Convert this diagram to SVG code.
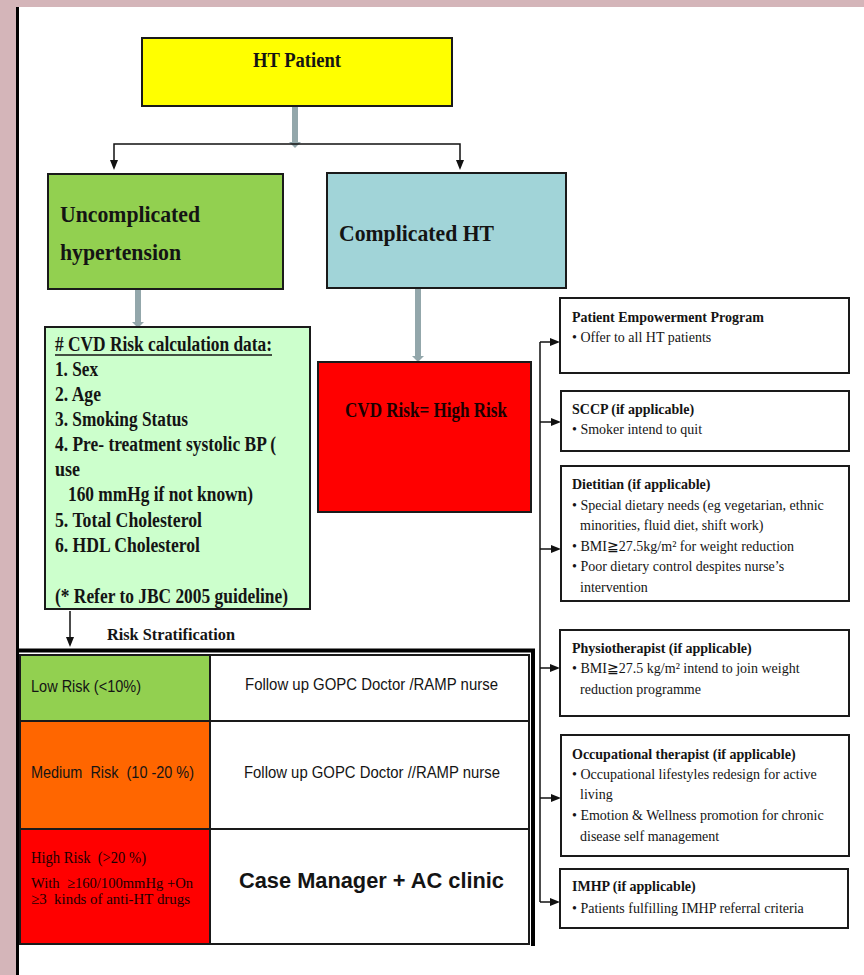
<svg xmlns="http://www.w3.org/2000/svg" width="864" height="975" viewBox="0 0 864 975">
<style>
.ser{font-family:"Liberation Serif","Times New Roman",serif}
.sans{font-family:"Liberation Sans",Arial,sans-serif}
.b{font-weight:bold}
.box{stroke:#1a1a1a;stroke-width:2}
.rb{fill:#ffffff;stroke:#1a1a1a;stroke-width:2}
.t14{font-size:14px;fill:#141414}
.conn{stroke:#111;stroke-width:1.5;fill:none}
.gray{stroke:#93a7ab;stroke-width:6;fill:none}
.ink{fill:#141414}
.pre{white-space:pre}
</style>
<defs>
<marker id="ah" markerUnits="userSpaceOnUse" markerWidth="10" markerHeight="8" refX="0" refY="4" orient="auto">
<path d="M0,0 L10,4 L0,8 z" fill="#111"/>
</marker>
<marker id="gh" markerUnits="userSpaceOnUse" markerWidth="6" markerHeight="12" refX="0" refY="6" orient="auto">
<path d="M0,0 L6,6 L0,12 z" fill="#93a7ab"/>
</marker>
</defs>

<rect x="0" y="0" width="864" height="975" fill="#d4b5b9"/>
<rect x="18" y="7" width="846" height="968" fill="#ffffff"/>
<line x1="17.5" y1="7" x2="17.5" y2="975" stroke="#000" stroke-width="3"/>

<g id="connectors">
<path class="gray" d="M295,102 L295,142" marker-end="url(#gh)"/>
<path class="conn" d="M295,144 L114,144 L114,160" marker-end="url(#ah)"/>
<path class="conn" d="M295,144 L460,144 L460,160" marker-end="url(#ah)"/>
<path class="gray" d="M138,286 L138,322" marker-end="url(#gh)"/>
<path class="gray" d="M418,285 L418,356" marker-end="url(#gh)"/>
<path class="conn" d="M70,611 L70,637" marker-end="url(#ah)"/>
<path class="conn" d="M540,342 L540,902"/>
<path class="conn" d="M540,342 L550,342" marker-end="url(#ah)"/>
<path class="conn" d="M540,422 L551,422" marker-end="url(#ah)"/>
<path class="conn" d="M540,549 L551,549" marker-end="url(#ah)"/>
<path class="conn" d="M540,668 L550,668" marker-end="url(#ah)"/>
<path class="conn" d="M540,798 L551,798" marker-end="url(#ah)"/>
<path class="conn" d="M540,902 L550,902" marker-end="url(#ah)"/>
</g>

<g id="ht-patient">
<rect class="box" x="142" y="38" width="310" height="68" fill="#ffff00"/>
<text class="ser b ink" x="297" y="67" font-size="20" text-anchor="middle" textLength="88" lengthAdjust="spacingAndGlyphs">HT Patient</text>
</g>

<g id="uncomplicated">
<rect class="box" x="48" y="174" width="235" height="115" fill="#92d050"/>
<text class="ser b ink" x="60" y="222" font-size="24" textLength="140" lengthAdjust="spacingAndGlyphs">Uncomplicated</text>
<text class="ser b ink" x="60" y="260" font-size="24" textLength="121" lengthAdjust="spacingAndGlyphs">hypertension</text>
</g>

<g id="complicated">
<rect class="box" x="327" y="173" width="239" height="115" fill="#a1d4d8"/>
<text class="ser b ink" x="339" y="241" font-size="24" textLength="155" lengthAdjust="spacingAndGlyphs">Complicated HT</text>
</g>

<g id="cvd-data">
<rect class="box" x="45" y="327" width="265" height="282" fill="#ccffcc"/>
<g class="ser b ink" font-size="20">
<text x="55" y="351" textLength="217" lengthAdjust="spacingAndGlyphs"># CVD Risk calculation data:</text>
<text x="55" y="376" textLength="43" lengthAdjust="spacingAndGlyphs">1. Sex</text>
<text x="55" y="401" textLength="46" lengthAdjust="spacingAndGlyphs">2. Age</text>
<text x="55" y="426" textLength="133" lengthAdjust="spacingAndGlyphs">3. Smoking Status</text>
<text x="55" y="451" textLength="221" lengthAdjust="spacingAndGlyphs">4. Pre- treatment systolic BP (</text>
<text x="55" y="476" textLength="25" lengthAdjust="spacingAndGlyphs">use</text>
<text x="68" y="501" textLength="185" lengthAdjust="spacingAndGlyphs">160 mmHg if not known)</text>
<text x="55" y="527" textLength="147" lengthAdjust="spacingAndGlyphs">5. Total Cholesterol</text>
<text x="55" y="552" textLength="145" lengthAdjust="spacingAndGlyphs">6. HDL Cholesterol</text>
<text x="55" y="603" textLength="233" lengthAdjust="spacingAndGlyphs">(* Refer to JBC 2005 guideline)</text>
</g>
<line x1="55" y1="355" x2="272" y2="355" stroke="#141414" stroke-width="1.3"/>
</g>

<g id="high-risk">
<rect class="box" x="318" y="362" width="213" height="150" fill="#ff0000"/>
<text class="ser b" x="426" y="417" font-size="20" fill="#1a0000" text-anchor="middle" textLength="162" lengthAdjust="spacingAndGlyphs">CVD Risk= High Risk</text>
</g>

<text class="ser b ink" x="107" y="640" font-size="17" textLength="128" lengthAdjust="spacingAndGlyphs">Risk Stratification</text>

<g id="risk-table">
<rect x="20" y="655" width="190" height="66" fill="#92d050" stroke="#1a1a1a" stroke-width="2"/>
<rect x="210" y="655" width="319" height="66" fill="#ffffff" stroke="#1a1a1a" stroke-width="2"/>
<rect x="20" y="721" width="190" height="108" fill="#ff6600" stroke="#1a1a1a" stroke-width="2"/>
<rect x="210" y="721" width="319" height="108" fill="#ffffff" stroke="#1a1a1a" stroke-width="2"/>
<rect x="20" y="829" width="190" height="115" fill="#ff0000" stroke="#1a1a1a" stroke-width="2"/>
<rect x="210" y="829" width="319" height="115" fill="#ffffff" stroke="#1a1a1a" stroke-width="2"/>
<line x1="16" y1="650.5" x2="535" y2="650.5" stroke="#000" stroke-width="4"/>
<line x1="533" y1="649" x2="533" y2="946" stroke="#000" stroke-width="4"/>
<g class="sans ink" font-size="16.5">
<text x="31" y="692" textLength="110" lengthAdjust="spacingAndGlyphs">Low Risk (&lt;10%)</text>
<text x="245" y="690" textLength="253" lengthAdjust="spacingAndGlyphs">Follow up GOPC Doctor /RAMP nurse</text>
<text class="pre" xml:space="preserve" x="31" y="778" textLength="163" lengthAdjust="spacingAndGlyphs">Medium  Risk  (10 -20 %)</text>
<text x="244" y="778" textLength="256" lengthAdjust="spacingAndGlyphs">Follow up GOPC Doctor //RAMP nurse</text>
</g>
<g class="ser" fill="#1a0000">
<text class="pre" xml:space="preserve" x="31" y="863" font-size="17" textLength="115" lengthAdjust="spacingAndGlyphs">High Risk  (&gt;20 %)</text>
<text class="pre" xml:space="preserve" x="31" y="888" font-size="15" textLength="162" lengthAdjust="spacingAndGlyphs">With  ≥160/100mmHg +On</text>
<text class="pre" xml:space="preserve" x="31" y="904" font-size="15" textLength="159" lengthAdjust="spacingAndGlyphs">≥3  kinds of anti-HT drugs</text>
</g>
<text class="sans b ink" x="239" y="888" font-size="22.5" textLength="265" lengthAdjust="spacingAndGlyphs">Case Manager + AC clinic</text>
</g>

<g id="pep">
<rect class="rb" x="560" y="298" width="289" height="75"/>
<text class="ser b t14" x="572" y="322">Patient Empowerment Program</text>
<text class="ser t14" x="572" y="342">• Offer to all HT patients</text>
</g>

<g id="sccp">
<rect class="rb" x="561" y="391" width="288" height="60"/>
<text class="ser b t14" x="572" y="414">SCCP (if applicable)</text>
<text class="ser t14" x="572" y="434">• Smoker intend to quit</text>
</g>

<g id="dietitian">
<rect class="rb" x="561" y="466" width="288" height="135"/>
<text class="ser b t14" x="572" y="489">Dietitian (if applicable)</text>
<text class="ser t14" x="572" y="510">• Special dietary needs (eg vegetarian, ethnic</text>
<text class="ser t14" x="580" y="530">minorities, fluid diet, shift work)</text>
<text class="ser t14" x="572" y="551">• BMI≧27.5kg/m² for weight reduction</text>
<text class="ser t14" x="572" y="571">• Poor dietary control despites nurse’s</text>
<text class="ser t14" x="580" y="592">intervention</text>
</g>

<g id="physio">
<rect class="rb" x="560" y="630" width="289" height="86"/>
<text class="ser b t14" x="572" y="653">Physiotherapist (if applicable)</text>
<text class="ser t14" x="572" y="673">• BMI≧27.5 kg/m² intend to join weight</text>
<text class="ser t14" x="580" y="694">reduction programme</text>
</g>

<g id="ot">
<rect class="rb" x="561" y="735" width="288" height="121"/>
<text class="ser b t14" x="572" y="759">Occupational therapist (if applicable)</text>
<text class="ser t14" x="572" y="779">• Occupational lifestyles redesign for active</text>
<text class="ser t14" x="580" y="799">living</text>
<text class="ser t14" x="572" y="820">• Emotion &amp; Wellness promotion for chronic</text>
<text class="ser t14" x="580" y="841">disease self management</text>
</g>

<g id="imhp">
<rect class="rb" x="560" y="869" width="288" height="59"/>
<text class="ser b t14" x="572" y="891">IMHP (if applicable)</text>
<text class="ser t14" x="572" y="913">• Patients fulfilling IMHP referral criteria</text>
</g>
</svg>
